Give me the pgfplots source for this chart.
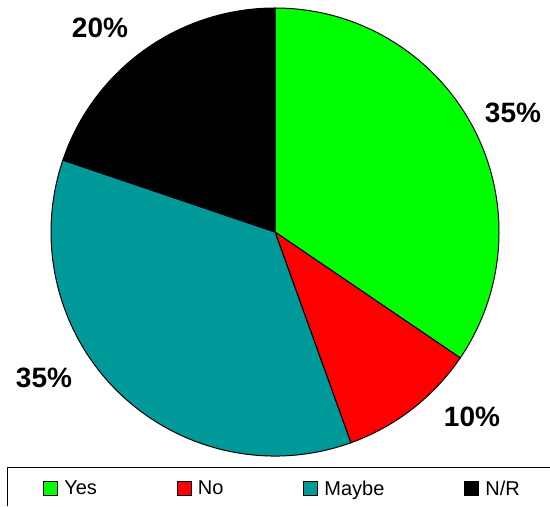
\documentclass[border=0pt]{standalone}
\usepackage{pgfplots}
\usepackage{pgfplotstable}
\pgfplotsset{compat=1.18}
\usepackage{fontspec}
\setmainfont{Liberation Sans}

\definecolor{pYes}{HTML}{00FF00}
\definecolor{pNo}{HTML}{FF0000}
\definecolor{pMaybe}{HTML}{009999}
\definecolor{pNR}{HTML}{000000}

% share of each answer, in percent (clockwise from 12 o'clock)
\pgfplotstableread{
answer value
Yes    34.5
No     10.0
Maybe  35.7
N/R    19.8
}\piedata

\begin{document}
\begin{tikzpicture}
\pgfplotstablegetelem{0}{value}\of\piedata \let\vA\pgfplotsretval
\pgfplotstablegetelem{1}{value}\of\piedata \let\vB\pgfplotsretval
\pgfplotstablegetelem{2}{value}\of\piedata \let\vC\pgfplotsretval
\pgfplotstablegetelem{3}{value}\of\piedata \let\vD\pgfplotsretval
\pgfmathsetmacro\aO{90}
\pgfmathsetmacro\aA{\aO-3.6*\vA}
\pgfmathsetmacro\aB{\aA-3.6*\vB}
\pgfmathsetmacro\aC{\aB-3.6*\vC}
\pgfmathsetmacro\aD{\aC-3.6*\vD}
\begin{axis}[
    name=pie,
    width=412.5pt, height=380.25pt, scale only axis,
    xmin=0, xmax=550, ymin=0, ymax=507,
    hide axis, clip=false,
    legend columns=4,
    legend image code/.code={
        \filldraw[#1, draw=black, line width=0.75pt] (0pt,-5.25pt) rectangle (10.5pt,5.25pt);},
    legend style={at={(axis cs:43,18)}, anchor=west,
        draw=none, fill=none,
        font=\fontsize{15}{17}\selectfont,
        inner sep=0pt,
        nodes={inner sep=0pt},
        /tikz/every odd column/.append style={column sep=4.5pt},
        /tikz/every even column/.append style={column sep=60pt}},
]
\newcommand\slice[3]{%
  \filldraw[fill=#3, draw=black, line width=0.75pt]
    (axis cs:275,275) -- ({275+224*cos(#1)},{275+224*sin(#1)})
    arc[start angle=#1, end angle=#2, radius=168pt] -- cycle;}
\slice{\aO}{\aA}{pYes}
\slice{\aA}{\aB}{pNo}
\slice{\aB}{\aC}{pMaybe}
\slice{\aC}{\aD}{pNR}

% legend frame: only its left and top sides fall inside the picture
\draw[line width=0.75pt] (axis cs:7.5,0.5) -- (axis cs:7.5,39) -- (axis cs:549.5,39);

\addlegendimage{fill=pYes}\addlegendentry{Yes}
\addlegendimage{fill=pNo}\addlegendentry{No}
\addlegendimage{fill=pMaybe}\addlegendentry{Maybe}
\addlegendimage{fill=pNR}\addlegendentry{N/R}

\begin{scope}[every node/.style={font=\bfseries\fontsize{21}{24}\selectfont}]
\node at (axis cs:513,394) {35\%};
\node at (axis cs:472,90) {10\%};
\node at (axis cs:44,129) {35\%};
\node at (axis cs:100,479) {20\%};
\end{scope}
\end{axis}
% the page is exactly the axis area
\pgfresetboundingbox
\path (pie.south west) rectangle (pie.north east);
\end{tikzpicture}
\end{document}
